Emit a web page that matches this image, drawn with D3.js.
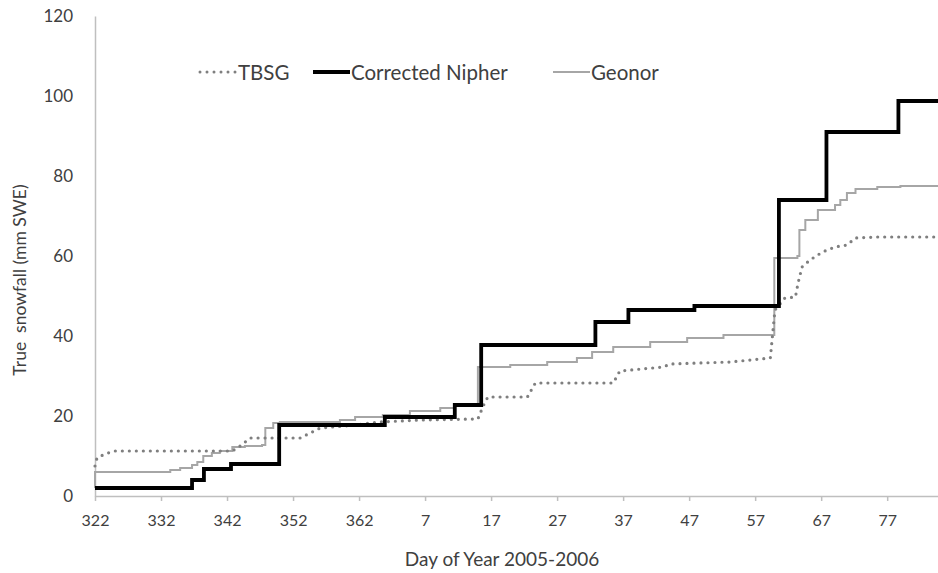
<!DOCTYPE html>
<html>
<head>
<meta charset="utf-8">
<script src="https://cdn.jsdelivr.net/npm/d3@7"></script>
<style>
  body { margin: 0; background: #fff; }
  text { font-family: Lato, "Open Sans", sans-serif; fill: #404040; }
</style>
</head>
<body>
<svg width="938" height="573"></svg>
<script>
// days counted on from 322 (2005); 2006 days are 365 + day
var xTicks = [322, 332, 342, 352, 362, 372, 382, 392, 402, 412, 422, 432, 442];
var yTicks = [0, 20, 40, 60, 80, 100, 120];

var tbsgDays = [322, 322.3, 323.5, 325, 342.8, 344, 345.5, 353.1, 354.6, 356.1, 359.9, 365.2, 371.2, 380,
  380.8, 381.5, 387.5, 388.7, 400.5, 401.5, 408.1, 409.1, 418.2, 424.3, 425, 426.5, 428.1, 428.5, 429.1,
  430.3, 432.2, 434.1, 435.9, 437.2, 440.5, 450];
var tbsgVals = [7.5, 9.5, 10.5, 11.25, 11.25, 12.5, 14.5, 14.5, 15.75, 17, 17.5, 18.5, 19, 19.25,
  22.5, 24.75, 24.75, 28.25, 28.25, 31.25, 32.25, 33, 33.5, 34.5, 46.5, 49.5, 49.75, 53.25, 57.25,
  59, 61, 62.25, 62.75, 64.5, 64.75, 64.75];

var nipherDays = [322, 336.7, 338.5, 342.6, 349.9, 365.9, 376.5, 380.5, 397.8, 402.8, 412.8, 425.6, 432.8, 443.7, 450];
var nipherVals = [2, 4, 6.75, 8, 17.75, 19.75, 22.75, 37.75, 43.5, 46.5, 47.5, 74, 91, 98.75, 98.75];

var geonorDays = [322, 322, 331.8, 333.4, 334.9, 336.7, 337.5, 338.4, 339.7, 340.9, 342.8, 344.7, 347.3, 347.8,
  349, 350, 359.1, 361.4, 365.6, 369.7, 374.3, 376.5, 380, 384.9, 390.5, 395, 397.3, 400.5, 406.1, 411.7,
  417.2, 424.9, 428.4, 428.7, 429.6, 431.5, 434.1, 434.9, 435.9, 437.2, 440.5, 444, 450];
var geonorVals = [2, 6, 6, 6.5, 7, 7.75, 8.5, 10, 10.75, 11.25, 12.25, 12.5, 12.75, 17,
  18.25, 18.5, 19, 19.75, 20.25, 21.25, 22, 23, 32.25, 32.75, 33.5, 34.5, 36, 37.25, 38.5, 39.5,
  40.25, 59.5, 60, 66.5, 69, 71.5, 72.75, 74, 75.75, 76.75, 77.25, 77.5, 77.5];

var svg = d3.select("svg");
var x = d3.scaleLinear().domain([322, 450]).range([95, 940]);
var y = d3.scaleLinear().domain([0, 120]).range([496, 16]);

var dayLabel = function (d) { return ((d - 1) % 365) + 1; };

// axes
var xAxis = svg.append("g")
    .attr("transform", "translate(0,496)")
    .call(d3.axisBottom(x).tickValues(xTicks).tickFormat(dayLabel).tickSize(5).tickSizeOuter(0));
xAxis.select(".domain").attr("stroke", "#bfbfbf").attr("stroke-width", 1.5);
xAxis.selectAll(".tick line").attr("stroke", "#bfbfbf").attr("stroke-width", 1.5);
xAxis.selectAll(".tick text").attr("dy", "1.35em").style("font-size", "16px").attr("fill", "#404040");

var yAxis = svg.append("g")
    .attr("transform", "translate(95,0)")
    .call(d3.axisLeft(y).tickValues(yTicks).tickSize(0).tickPadding(22));
yAxis.select(".domain").attr("stroke", "#bfbfbf").attr("stroke-width", 1.5);
yAxis.selectAll(".tick text").style("font-size", "17px").attr("fill", "#404040");

// lines
var toPts = function (days, vals) { return days.map(function (d, i) { return [d, vals[i]]; }); };
var lineLin = d3.line().x(function (d) { return x(d[0]); }).y(function (d) { return y(d[1]); });
var lineStep = d3.line().x(function (d) { return x(d[0]); }).y(function (d) { return y(d[1]); }).curve(d3.curveStepAfter);

svg.append("path").datum(toPts(geonorDays, geonorVals))
    .attr("d", lineStep).attr("fill", "none").attr("stroke", "#a6a6a6").attr("stroke-width", 2);

svg.append("path").datum(toPts(tbsgDays, tbsgVals))
    .attr("d", lineLin).attr("fill", "none").attr("stroke", "#7f7f7f").attr("stroke-width", 3.2)
    .attr("stroke-linecap", "round").attr("stroke-dasharray", "0,7");

svg.append("path").datum(toPts(nipherDays, nipherVals))
    .attr("d", lineStep).attr("fill", "none").attr("stroke", "#000").attr("stroke-width", 3.8)
    .attr("stroke-linejoin", "miter");

// legend
var legend = [
  { name: "TBSG", x: 200, color: "#7f7f7f", w: 3, dash: "0,7", cap: "round" },
  { name: "Corrected Nipher", x: 313, color: "#000", w: 3.8, dash: null, cap: "butt" },
  { name: "Geonor", x: 553, color: "#a6a6a6", w: 2, dash: null, cap: "butt" }
];
var lg = svg.selectAll(".lg").data(legend).enter().append("g").attr("class", "lg")
    .attr("transform", function (d) { return "translate(" + d.x + ",72)"; });
lg.append("line").attr("x1", 0).attr("x2", 37).attr("y1", 0).attr("y2", 0)
    .attr("stroke", function (d) { return d.color; })
    .attr("stroke-width", function (d) { return d.w; })
    .attr("stroke-dasharray", function (d) { return d.dash; })
    .attr("stroke-linecap", function (d) { return d.cap; });
lg.append("text").attr("x", 38).attr("y", 7.5).style("font-size", "20.5px")
    .text(function (d) { return d.name; });

// titles
svg.append("text").attr("x", 502).attr("y", 566).attr("text-anchor", "middle")
    .style("font-size", "19px").text("Day of Year 2005-2006");
svg.append("text").attr("transform", "translate(26,280) rotate(-90)").attr("text-anchor", "middle")
    .style("font-size", "17.5px").text("True\u00a0 snowfall (mm SWE)");
</script>
</body>
</html>
